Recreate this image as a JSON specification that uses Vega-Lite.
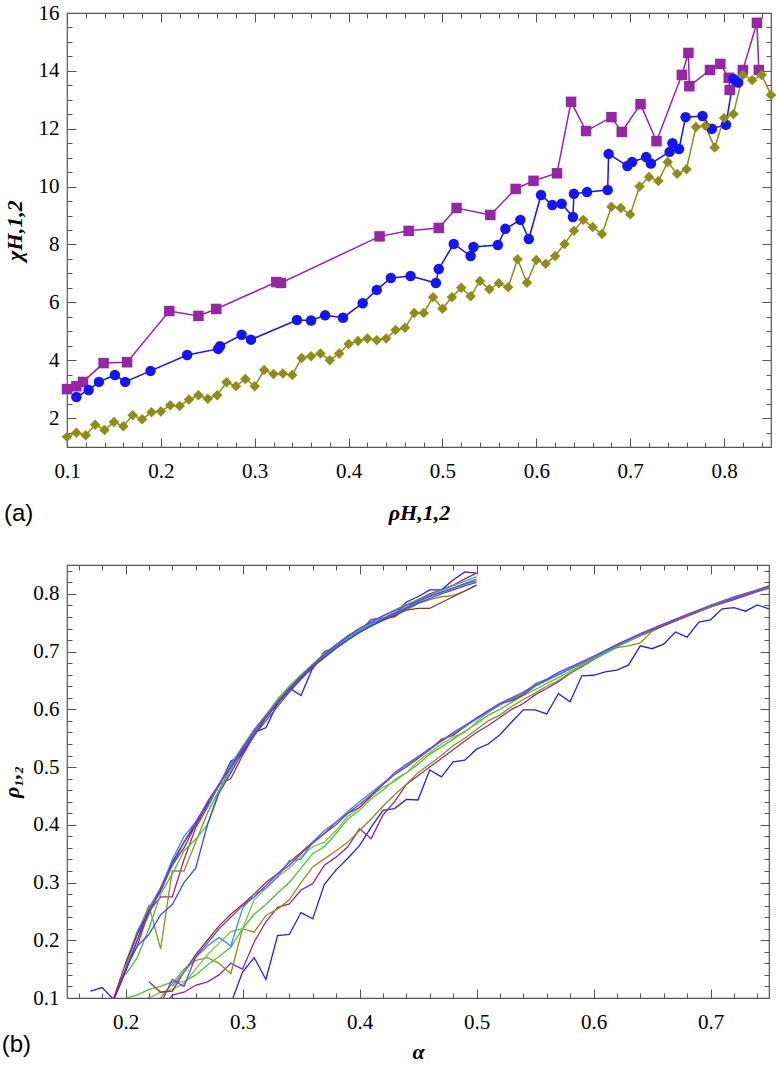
{
"$schema":"https://vega.github.io/schema/vega-lite/v6.json",
"background":"white",
"padding":{"left":0,"top":1,"right":2,"bottom":0},
"bounds":"flush",
"spacing":118,
"resolve":{"scale":{"color":"independent","shape":"independent"}},
"config":{
 "font":"Liberation Serif",
 "view":{"stroke":"#555","strokeWidth":1.2},
 "axis":{"domain":false,"grid":false,"labelFont":"Liberation Serif","labelFontSize":21,"labelColor":"#000","tickColor":"#555","tickWidth":1,"labelOverlap":false,"labelFlush":false,"titleFont":"Liberation Serif","titleFontSize":22,"titleFontWeight":"bold","titleFontStyle":"italic","titleColor":"#000"}
},
"datasets":{
"top":[
{"s":"sq","x":0.1,"y":3.0},{"s":"sq","x":0.11,"y":3.1},{"s":"sq","x":0.117,"y":3.25},{"s":"sq","x":0.139,"y":3.9},{"s":"sq","x":0.164,"y":3.93},{"s":"sq","x":0.209,"y":5.7},{"s":"sq","x":0.24,"y":5.53},{"s":"sq","x":0.259,"y":5.77},{"s":"sq","x":0.323,"y":6.7},{"s":"sq","x":0.328,"y":6.67},{"s":"sq","x":0.433,"y":8.28},{"s":"sq","x":0.464,"y":8.47},{"s":"sq","x":0.496,"y":8.57},{"s":"sq","x":0.515,"y":9.26},{"s":"sq","x":0.551,"y":9.02},{"s":"sq","x":0.578,"y":9.92},{"s":"sq","x":0.597,"y":10.2},{"s":"sq","x":0.622,"y":10.46},{"s":"sq","x":0.637,"y":12.93},{"s":"sq","x":0.653,"y":11.92},{"s":"sq","x":0.68,"y":12.4},{"s":"sq","x":0.691,"y":11.89},{"s":"sq","x":0.711,"y":12.85},{"s":"sq","x":0.728,"y":11.57},{"s":"sq","x":0.755,"y":13.86},{"s":"sq","x":0.762,"y":14.62},{"s":"sq","x":0.763,"y":13.47},{"s":"sq","x":0.785,"y":14.03},{"s":"sq","x":0.796,"y":14.24},{"s":"sq","x":0.805,"y":13.76},{"s":"sq","x":0.806,"y":13.34},{"s":"sq","x":0.82,"y":14.03},{"s":"sq","x":0.835,"y":15.66},{"s":"sq","x":0.837,"y":14.03},
{"s":"ci","x":0.11,"y":2.73},{"s":"ci","x":0.123,"y":2.97},{"s":"ci","x":0.134,"y":3.25},{"s":"ci","x":0.151,"y":3.49},{"s":"ci","x":0.162,"y":3.25},{"s":"ci","x":0.189,"y":3.63},{"s":"ci","x":0.228,"y":4.18},{"s":"ci","x":0.261,"y":4.39},{"s":"ci","x":0.263,"y":4.48},{"s":"ci","x":0.286,"y":4.88},{"s":"ci","x":0.296,"y":4.71},{"s":"ci","x":0.345,"y":5.39},{"s":"ci","x":0.36,"y":5.37},{"s":"ci","x":0.375,"y":5.55},{"s":"ci","x":0.394,"y":5.47},{"s":"ci","x":0.415,"y":5.97},{"s":"ci","x":0.43,"y":6.43},{"s":"ci","x":0.445,"y":6.84},{"s":"ci","x":0.466,"y":6.91},{"s":"ci","x":0.493,"y":6.67},{"s":"ci","x":0.496,"y":7.15},{"s":"ci","x":0.512,"y":8.02},{"s":"ci","x":0.53,"y":7.6},{"s":"ci","x":0.533,"y":7.91},{"s":"ci","x":0.559,"y":7.98},{"s":"ci","x":0.567,"y":8.54},{"s":"ci","x":0.583,"y":8.85},{"s":"ci","x":0.592,"y":8.19},{"s":"ci","x":0.605,"y":9.71},{"s":"ci","x":0.617,"y":9.36},{"s":"ci","x":0.627,"y":9.41},{"s":"ci","x":0.639,"y":8.95},{"s":"ci","x":0.64,"y":9.75},{"s":"ci","x":0.654,"y":9.81},{"s":"ci","x":0.676,"y":9.88},{"s":"ci","x":0.677,"y":11.13},{"s":"ci","x":0.697,"y":10.71},{"s":"ci","x":0.702,"y":10.85},{"s":"ci","x":0.717,"y":11.02},{"s":"ci","x":0.722,"y":10.8},{"s":"ci","x":0.742,"y":11.2},{"s":"ci","x":0.745,"y":11.5},{"s":"ci","x":0.752,"y":11.3},{"s":"ci","x":0.759,"y":12.4},{"s":"ci","x":0.777,"y":12.44},{"s":"ci","x":0.787,"y":12.0},{"s":"ci","x":0.802,"y":12.14},{"s":"ci","x":0.81,"y":13.72},{"s":"ci","x":0.815,"y":13.6},
{"s":"di","x":0.1,"y":1.35},{"s":"di","x":0.11,"y":1.49},{"s":"di","x":0.12,"y":1.41},{"s":"di","x":0.13,"y":1.77},{"s":"di","x":0.14,"y":1.59},{"s":"di","x":0.15,"y":1.86},{"s":"di","x":0.16,"y":1.72},{"s":"di","x":0.17,"y":2.1},{"s":"di","x":0.18,"y":1.96},{"s":"di","x":0.19,"y":2.2},{"s":"di","x":0.2,"y":2.23},{"s":"di","x":0.21,"y":2.44},{"s":"di","x":0.22,"y":2.42},{"s":"di","x":0.23,"y":2.64},{"s":"di","x":0.24,"y":2.79},{"s":"di","x":0.25,"y":2.67},{"s":"di","x":0.26,"y":2.79},{"s":"di","x":0.27,"y":3.24},{"s":"di","x":0.28,"y":3.1},{"s":"di","x":0.29,"y":3.35},{"s":"di","x":0.3,"y":3.1},{"s":"di","x":0.31,"y":3.66},{"s":"di","x":0.32,"y":3.52},{"s":"di","x":0.33,"y":3.54},{"s":"di","x":0.34,"y":3.49},{"s":"di","x":0.35,"y":4.08},{"s":"di","x":0.36,"y":4.14},{"s":"di","x":0.37,"y":4.23},{"s":"di","x":0.38,"y":4.0},{"s":"di","x":0.39,"y":4.23},{"s":"di","x":0.4,"y":4.56},{"s":"di","x":0.41,"y":4.66},{"s":"di","x":0.42,"y":4.75},{"s":"di","x":0.43,"y":4.69},{"s":"di","x":0.44,"y":4.75},{"s":"di","x":0.45,"y":5.04},{"s":"di","x":0.46,"y":5.12},{"s":"di","x":0.47,"y":5.63},{"s":"di","x":0.48,"y":5.63},{"s":"di","x":0.49,"y":6.18},{"s":"di","x":0.5,"y":5.78},{"s":"di","x":0.51,"y":6.18},{"s":"di","x":0.52,"y":6.5},{"s":"di","x":0.53,"y":6.21},{"s":"di","x":0.54,"y":6.74},{"s":"di","x":0.55,"y":6.45},{"s":"di","x":0.56,"y":6.66},{"s":"di","x":0.57,"y":6.52},{"s":"di","x":0.58,"y":7.49},{"s":"di","x":0.59,"y":6.68},{"s":"di","x":0.6,"y":7.46},{"s":"di","x":0.61,"y":7.33},{"s":"di","x":0.62,"y":7.6},{"s":"di","x":0.63,"y":8.02},{"s":"di","x":0.64,"y":8.47},{"s":"di","x":0.65,"y":8.85},{"s":"di","x":0.66,"y":8.6},{"s":"di","x":0.67,"y":8.36},{"s":"di","x":0.68,"y":9.3},{"s":"di","x":0.69,"y":9.26},{"s":"di","x":0.7,"y":9.04},{"s":"di","x":0.71,"y":10.0},{"s":"di","x":0.72,"y":10.33},{"s":"di","x":0.73,"y":10.19},{"s":"di","x":0.74,"y":10.85},{"s":"di","x":0.75,"y":10.44},{"s":"di","x":0.76,"y":10.6},{"s":"di","x":0.77,"y":12.06},{"s":"di","x":0.78,"y":12.1},{"s":"di","x":0.79,"y":11.35},{"s":"di","x":0.8,"y":12.37},{"s":"di","x":0.81,"y":12.51},{"s":"di","x":0.82,"y":13.86},{"s":"di","x":0.83,"y":13.68},{"s":"di","x":0.84,"y":13.86},{"s":"di","x":0.85,"y":13.17}
],
"bot":[
{"s":"LA","a":0.17,"r":0.112},{"s":"LA","a":0.18,"r":0.118},{"s":"LA","a":0.19,"r":0.097},{"s":"LA","a":0.2,"r":0.145},{"s":"LA","a":0.21,"r":0.2},{"s":"LA","a":0.22,"r":0.255},{"s":"LA","a":0.23,"r":0.29},{"s":"LA","a":0.24,"r":0.335},{"s":"LA","a":0.25,"r":0.37},{"s":"LA","a":0.26,"r":0.4},{"s":"LA","a":0.27,"r":0.435},{"s":"LA","a":0.28,"r":0.468},{"s":"LA","a":0.29,"r":0.51},{"s":"LA","a":0.3,"r":0.522},{"s":"LA","a":0.31,"r":0.56},{"s":"LA","a":0.32,"r":0.568},{"s":"LA","a":0.33,"r":0.61},{"s":"LA","a":0.34,"r":0.637},{"s":"LA","a":0.35,"r":0.624},{"s":"LA","a":0.36,"r":0.672},{"s":"LA","a":0.37,"r":0.695},{"s":"LA","a":0.38,"r":0.712},{"s":"LA","a":0.39,"r":0.727},{"s":"LA","a":0.4,"r":0.74},{"s":"LA","a":0.41,"r":0.75},{"s":"LA","a":0.42,"r":0.756},{"s":"LA","a":0.43,"r":0.763},{"s":"LA","a":0.44,"r":0.786},{"s":"LA","a":0.45,"r":0.795},{"s":"LA","a":0.46,"r":0.807},{"s":"LA","a":0.47,"r":0.807},{"s":"LA","a":0.48,"r":0.824},{"s":"LA","a":0.49,"r":0.838},{"s":"LA","a":0.5,"r":0.836},
{"s":"LB","a":0.19,"r":0.1},{"s":"LB","a":0.2,"r":0.15},{"s":"LB","a":0.21,"r":0.19},{"s":"LB","a":0.22,"r":0.25},{"s":"LB","a":0.23,"r":0.275},{"s":"LB","a":0.24,"r":0.275},{"s":"LB","a":0.25,"r":0.34},{"s":"LB","a":0.26,"r":0.395},{"s":"LB","a":0.27,"r":0.43},{"s":"LB","a":0.28,"r":0.47},{"s":"LB","a":0.29,"r":0.48},{"s":"LB","a":0.3,"r":0.52},{"s":"LB","a":0.31,"r":0.555},{"s":"LB","a":0.32,"r":0.587},{"s":"LB","a":0.33,"r":0.615},{"s":"LB","a":0.34,"r":0.636},{"s":"LB","a":0.35,"r":0.658},{"s":"LB","a":0.36,"r":0.67},{"s":"LB","a":0.37,"r":0.7},{"s":"LB","a":0.38,"r":0.708},{"s":"LB","a":0.39,"r":0.725},{"s":"LB","a":0.4,"r":0.735},{"s":"LB","a":0.41,"r":0.756},{"s":"LB","a":0.42,"r":0.758},{"s":"LB","a":0.43,"r":0.76},{"s":"LB","a":0.44,"r":0.775},{"s":"LB","a":0.45,"r":0.79},{"s":"LB","a":0.46,"r":0.8},{"s":"LB","a":0.47,"r":0.807},{"s":"LB","a":0.48,"r":0.815},{"s":"LB","a":0.49,"r":0.826},{"s":"LB","a":0.5,"r":0.836},
{"s":"LC","a":0.2,"r":0.155},{"s":"LC","a":0.21,"r":0.21},{"s":"LC","a":0.22,"r":0.26},{"s":"LC","a":0.23,"r":0.185},{"s":"LC","a":0.24,"r":0.32},{"s":"LC","a":0.25,"r":0.32},{"s":"LC","a":0.26,"r":0.37},{"s":"LC","a":0.27,"r":0.42},{"s":"LC","a":0.28,"r":0.46},{"s":"LC","a":0.29,"r":0.495},{"s":"LC","a":0.3,"r":0.53},{"s":"LC","a":0.31,"r":0.56},{"s":"LC","a":0.32,"r":0.59},{"s":"LC","a":0.33,"r":0.614},{"s":"LC","a":0.34,"r":0.636},{"s":"LC","a":0.35,"r":0.655},{"s":"LC","a":0.36,"r":0.678},{"s":"LC","a":0.37,"r":0.692},{"s":"LC","a":0.38,"r":0.708},{"s":"LC","a":0.39,"r":0.72},{"s":"LC","a":0.4,"r":0.735},{"s":"LC","a":0.41,"r":0.745},{"s":"LC","a":0.42,"r":0.755},{"s":"LC","a":0.43,"r":0.765},{"s":"LC","a":0.44,"r":0.772},{"s":"LC","a":0.45,"r":0.783},{"s":"LC","a":0.46,"r":0.79},{"s":"LC","a":0.47,"r":0.795},{"s":"LC","a":0.48,"r":0.797},{"s":"LC","a":0.49,"r":0.805},{"s":"LC","a":0.5,"r":0.815},
{"s":"LD","a":0.2,"r":0.14},{"s":"LD","a":0.21,"r":0.17},{"s":"LD","a":0.22,"r":0.22},{"s":"LD","a":0.23,"r":0.28},{"s":"LD","a":0.24,"r":0.315},{"s":"LD","a":0.25,"r":0.355},{"s":"LD","a":0.26,"r":0.375},{"s":"LD","a":0.27,"r":0.4},{"s":"LD","a":0.28,"r":0.46},{"s":"LD","a":0.29,"r":0.5},{"s":"LD","a":0.3,"r":0.535},{"s":"LD","a":0.31,"r":0.565},{"s":"LD","a":0.32,"r":0.59},{"s":"LD","a":0.33,"r":0.618},{"s":"LD","a":0.34,"r":0.64},{"s":"LD","a":0.35,"r":0.66},{"s":"LD","a":0.36,"r":0.678},{"s":"LD","a":0.37,"r":0.697},{"s":"LD","a":0.38,"r":0.712},{"s":"LD","a":0.39,"r":0.726},{"s":"LD","a":0.4,"r":0.738},{"s":"LD","a":0.41,"r":0.75},{"s":"LD","a":0.42,"r":0.762},{"s":"LD","a":0.43,"r":0.772},{"s":"LD","a":0.44,"r":0.782},{"s":"LD","a":0.45,"r":0.79},{"s":"LD","a":0.46,"r":0.798},{"s":"LD","a":0.47,"r":0.806},{"s":"LD","a":0.48,"r":0.814},{"s":"LD","a":0.49,"r":0.822},{"s":"LD","a":0.5,"r":0.83},
{"s":"LE","a":0.2,"r":0.16},{"s":"LE","a":0.21,"r":0.215},{"s":"LE","a":0.22,"r":0.255},{"s":"LE","a":0.23,"r":0.29},{"s":"LE","a":0.24,"r":0.34},{"s":"LE","a":0.25,"r":0.38},{"s":"LE","a":0.26,"r":0.405},{"s":"LE","a":0.27,"r":0.43},{"s":"LE","a":0.28,"r":0.47},{"s":"LE","a":0.29,"r":0.505},{"s":"LE","a":0.3,"r":0.535},{"s":"LE","a":0.31,"r":0.565},{"s":"LE","a":0.32,"r":0.59},{"s":"LE","a":0.33,"r":0.612},{"s":"LE","a":0.34,"r":0.634},{"s":"LE","a":0.35,"r":0.655},{"s":"LE","a":0.36,"r":0.675},{"s":"LE","a":0.37,"r":0.692},{"s":"LE","a":0.38,"r":0.709},{"s":"LE","a":0.39,"r":0.723},{"s":"LE","a":0.4,"r":0.736},{"s":"LE","a":0.41,"r":0.748},{"s":"LE","a":0.42,"r":0.758},{"s":"LE","a":0.43,"r":0.768},{"s":"LE","a":0.44,"r":0.777},{"s":"LE","a":0.45,"r":0.786},{"s":"LE","a":0.46,"r":0.795},{"s":"LE","a":0.47,"r":0.803},{"s":"LE","a":0.48,"r":0.81},{"s":"LE","a":0.49,"r":0.818},{"s":"LE","a":0.5,"r":0.826},
{"s":"LF","a":0.19,"r":0.1},{"s":"LF","a":0.2,"r":0.16},{"s":"LF","a":0.21,"r":0.21},{"s":"LF","a":0.22,"r":0.25},{"s":"LF","a":0.23,"r":0.285},{"s":"LF","a":0.24,"r":0.33},{"s":"LF","a":0.25,"r":0.36},{"s":"LF","a":0.26,"r":0.4},{"s":"LF","a":0.27,"r":0.44},{"s":"LF","a":0.28,"r":0.47},{"s":"LF","a":0.29,"r":0.5},{"s":"LF","a":0.3,"r":0.528},{"s":"LF","a":0.31,"r":0.555},{"s":"LF","a":0.32,"r":0.585},{"s":"LF","a":0.33,"r":0.61},{"s":"LF","a":0.34,"r":0.633},{"s":"LF","a":0.35,"r":0.654},{"s":"LF","a":0.36,"r":0.674},{"s":"LF","a":0.37,"r":0.69},{"s":"LF","a":0.38,"r":0.706},{"s":"LF","a":0.39,"r":0.72},{"s":"LF","a":0.4,"r":0.733},{"s":"LF","a":0.41,"r":0.744},{"s":"LF","a":0.42,"r":0.754},{"s":"LF","a":0.43,"r":0.762},{"s":"LF","a":0.44,"r":0.772},{"s":"LF","a":0.45,"r":0.775},{"s":"LF","a":0.46,"r":0.775},{"s":"LF","a":0.47,"r":0.785},{"s":"LF","a":0.48,"r":0.795},{"s":"LF","a":0.49,"r":0.805},{"s":"LF","a":0.5,"r":0.815},
{"s":"LG","a":0.2,"r":0.15},{"s":"LG","a":0.21,"r":0.2},{"s":"LG","a":0.22,"r":0.245},{"s":"LG","a":0.23,"r":0.29},{"s":"LG","a":0.24,"r":0.33},{"s":"LG","a":0.25,"r":0.37},{"s":"LG","a":0.26,"r":0.405},{"s":"LG","a":0.27,"r":0.438},{"s":"LG","a":0.28,"r":0.47},{"s":"LG","a":0.29,"r":0.5},{"s":"LG","a":0.3,"r":0.532},{"s":"LG","a":0.31,"r":0.562},{"s":"LG","a":0.32,"r":0.588},{"s":"LG","a":0.33,"r":0.613},{"s":"LG","a":0.34,"r":0.636},{"s":"LG","a":0.35,"r":0.657},{"s":"LG","a":0.36,"r":0.677},{"s":"LG","a":0.37,"r":0.695},{"s":"LG","a":0.38,"r":0.712},{"s":"LG","a":0.39,"r":0.727},{"s":"LG","a":0.4,"r":0.74},{"s":"LG","a":0.41,"r":0.752},{"s":"LG","a":0.42,"r":0.762},{"s":"LG","a":0.43,"r":0.771},{"s":"LG","a":0.44,"r":0.78},{"s":"LG","a":0.45,"r":0.788},{"s":"LG","a":0.46,"r":0.796},{"s":"LG","a":0.47,"r":0.803},{"s":"LG","a":0.48,"r":0.81},{"s":"LG","a":0.49,"r":0.817},{"s":"LG","a":0.5,"r":0.823},
{"s":"LH","a":0.2,"r":0.15},{"s":"LH","a":0.21,"r":0.19},{"s":"LH","a":0.22,"r":0.21},{"s":"LH","a":0.23,"r":0.244},{"s":"LH","a":0.24,"r":0.262},{"s":"LH","a":0.25,"r":0.3},{"s":"LH","a":0.26,"r":0.325},{"s":"LH","a":0.27,"r":0.4},{"s":"LH","a":0.28,"r":0.455},{"s":"LH","a":0.29,"r":0.49},{"s":"LH","a":0.3,"r":0.525},{"s":"LH","a":0.31,"r":0.555},{"s":"LH","a":0.32,"r":0.58},{"s":"LH","a":0.33,"r":0.605},{"s":"LH","a":0.34,"r":0.63},{"s":"LH","a":0.35,"r":0.652},{"s":"LH","a":0.36,"r":0.673},{"s":"LH","a":0.37,"r":0.69},{"s":"LH","a":0.38,"r":0.706},{"s":"LH","a":0.39,"r":0.72},{"s":"LH","a":0.4,"r":0.733},{"s":"LH","a":0.41,"r":0.745},{"s":"LH","a":0.42,"r":0.756},{"s":"LH","a":0.43,"r":0.766},{"s":"LH","a":0.44,"r":0.775},{"s":"LH","a":0.45,"r":0.784},{"s":"LH","a":0.46,"r":0.792},{"s":"LH","a":0.47,"r":0.8},{"s":"LH","a":0.48,"r":0.807},{"s":"LH","a":0.49,"r":0.814},{"s":"LH","a":0.5,"r":0.82},
{"s":"RA","a":0.28,"r":0.06},{"s":"RA","a":0.29,"r":0.09},{"s":"RA","a":0.3,"r":0.145},{"s":"RA","a":0.31,"r":0.17},{"s":"RA","a":0.32,"r":0.132},{"s":"RA","a":0.33,"r":0.208},{"s":"RA","a":0.34,"r":0.21},{"s":"RA","a":0.35,"r":0.248},{"s":"RA","a":0.36,"r":0.237},{"s":"RA","a":0.37,"r":0.297},{"s":"RA","a":0.38,"r":0.322},{"s":"RA","a":0.39,"r":0.342},{"s":"RA","a":0.4,"r":0.364},{"s":"RA","a":0.41,"r":0.396},{"s":"RA","a":0.42,"r":0.425},{"s":"RA","a":0.43,"r":0.428},{"s":"RA","a":0.44,"r":0.444},{"s":"RA","a":0.45,"r":0.443},{"s":"RA","a":0.46,"r":0.495},{"s":"RA","a":0.47,"r":0.483},{"s":"RA","a":0.48,"r":0.509},{"s":"RA","a":0.49,"r":0.512},{"s":"RA","a":0.5,"r":0.531},{"s":"RA","a":0.51,"r":0.54},{"s":"RA","a":0.52,"r":0.556},{"s":"RA","a":0.53,"r":0.578},{"s":"RA","a":0.54,"r":0.599},{"s":"RA","a":0.55,"r":0.599},{"s":"RA","a":0.56,"r":0.592},{"s":"RA","a":0.57,"r":0.627},{"s":"RA","a":0.58,"r":0.613},{"s":"RA","a":0.59,"r":0.658},{"s":"RA","a":0.6,"r":0.659},{"s":"RA","a":0.61,"r":0.665},{"s":"RA","a":0.62,"r":0.668},{"s":"RA","a":0.63,"r":0.677},{"s":"RA","a":0.64,"r":0.71},{"s":"RA","a":0.65,"r":0.705},{"s":"RA","a":0.66,"r":0.713},{"s":"RA","a":0.67,"r":0.734},{"s":"RA","a":0.68,"r":0.725},{"s":"RA","a":0.69,"r":0.751},{"s":"RA","a":0.7,"r":0.755},{"s":"RA","a":0.71,"r":0.774},{"s":"RA","a":0.72,"r":0.776},{"s":"RA","a":0.73,"r":0.77},{"s":"RA","a":0.74,"r":0.781},{"s":"RA","a":0.75,"r":0.774},
{"s":"RB","a":0.23,"r":0.08},{"s":"RB","a":0.24,"r":0.105},{"s":"RB","a":0.25,"r":0.11},{"s":"RB","a":0.26,"r":0.122},{"s":"RB","a":0.27,"r":0.128},{"s":"RB","a":0.28,"r":0.14},{"s":"RB","a":0.29,"r":0.16},{"s":"RB","a":0.3,"r":0.15},{"s":"RB","a":0.31,"r":0.197},{"s":"RB","a":0.32,"r":0.232},{"s":"RB","a":0.33,"r":0.257},{"s":"RB","a":0.34,"r":0.263},{"s":"RB","a":0.35,"r":0.287},{"s":"RB","a":0.36,"r":0.298},{"s":"RB","a":0.37,"r":0.33},{"s":"RB","a":0.38,"r":0.344},{"s":"RB","a":0.39,"r":0.362},{"s":"RB","a":0.4,"r":0.393},{"s":"RB","a":0.41,"r":0.376},{"s":"RB","a":0.42,"r":0.417},{"s":"RB","a":0.43,"r":0.44},{"s":"RB","a":0.44,"r":0.47},{"s":"RB","a":0.45,"r":0.485},{"s":"RB","a":0.46,"r":0.5},{"s":"RB","a":0.47,"r":0.515},{"s":"RB","a":0.48,"r":0.53},{"s":"RB","a":0.49,"r":0.545},{"s":"RB","a":0.5,"r":0.56},{"s":"RB","a":0.51,"r":0.572},{"s":"RB","a":0.52,"r":0.586},{"s":"RB","a":0.53,"r":0.6},{"s":"RB","a":0.54,"r":0.61},{"s":"RB","a":0.55,"r":0.625},{"s":"RB","a":0.56,"r":0.636},{"s":"RB","a":0.57,"r":0.648},{"s":"RB","a":0.58,"r":0.662},{"s":"RB","a":0.59,"r":0.674},{"s":"RB","a":0.6,"r":0.686},{"s":"RB","a":0.62,"r":0.709},{"s":"RB","a":0.64,"r":0.727},{"s":"RB","a":0.66,"r":0.745},{"s":"RB","a":0.68,"r":0.761},{"s":"RB","a":0.7,"r":0.777},{"s":"RB","a":0.72,"r":0.79},{"s":"RB","a":0.74,"r":0.804},{"s":"RB","a":0.75,"r":0.81},
{"s":"RC","a":0.22,"r":0.07},{"s":"RC","a":0.23,"r":0.1},{"s":"RC","a":0.24,"r":0.125},{"s":"RC","a":0.25,"r":0.15},{"s":"RC","a":0.26,"r":0.165},{"s":"RC","a":0.27,"r":0.17},{"s":"RC","a":0.28,"r":0.16},{"s":"RC","a":0.29,"r":0.142},{"s":"RC","a":0.3,"r":0.22},{"s":"RC","a":0.31,"r":0.214},{"s":"RC","a":0.32,"r":0.243},{"s":"RC","a":0.33,"r":0.254},{"s":"RC","a":0.34,"r":0.27},{"s":"RC","a":0.35,"r":0.3},{"s":"RC","a":0.36,"r":0.327},{"s":"RC","a":0.37,"r":0.341},{"s":"RC","a":0.38,"r":0.355},{"s":"RC","a":0.39,"r":0.37},{"s":"RC","a":0.4,"r":0.39},{"s":"RC","a":0.41,"r":0.41},{"s":"RC","a":0.42,"r":0.432},{"s":"RC","a":0.43,"r":0.452},{"s":"RC","a":0.44,"r":0.47},{"s":"RC","a":0.45,"r":0.49},{"s":"RC","a":0.46,"r":0.505},{"s":"RC","a":0.47,"r":0.52},{"s":"RC","a":0.48,"r":0.537},{"s":"RC","a":0.49,"r":0.55},{"s":"RC","a":0.5,"r":0.565},{"s":"RC","a":0.51,"r":0.58},{"s":"RC","a":0.52,"r":0.59},{"s":"RC","a":0.53,"r":0.605},{"s":"RC","a":0.54,"r":0.617},{"s":"RC","a":0.55,"r":0.628},{"s":"RC","a":0.56,"r":0.64},{"s":"RC","a":0.57,"r":0.65},{"s":"RC","a":0.58,"r":0.663},{"s":"RC","a":0.59,"r":0.674},{"s":"RC","a":0.6,"r":0.686},{"s":"RC","a":0.61,"r":0.697},{"s":"RC","a":0.62,"r":0.707},{"s":"RC","a":0.63,"r":0.71},{"s":"RC","a":0.64,"r":0.715},{"s":"RC","a":0.65,"r":0.735},{"s":"RC","a":0.66,"r":0.745},{"s":"RC","a":0.68,"r":0.762},{"s":"RC","a":0.7,"r":0.777},{"s":"RC","a":0.72,"r":0.792},{"s":"RC","a":0.74,"r":0.805},{"s":"RC","a":0.75,"r":0.81},
{"s":"RD","a":0.2,"r":0.1},{"s":"RD","a":0.21,"r":0.105},{"s":"RD","a":0.22,"r":0.115},{"s":"RD","a":0.23,"r":0.12},{"s":"RD","a":0.24,"r":0.128},{"s":"RD","a":0.25,"r":0.128},{"s":"RD","a":0.26,"r":0.14},{"s":"RD","a":0.27,"r":0.157},{"s":"RD","a":0.28,"r":0.172},{"s":"RD","a":0.29,"r":0.188},{"s":"RD","a":0.3,"r":0.22},{"s":"RD","a":0.31,"r":0.245},{"s":"RD","a":0.32,"r":0.262},{"s":"RD","a":0.33,"r":0.282},{"s":"RD","a":0.34,"r":0.3},{"s":"RD","a":0.35,"r":0.325},{"s":"RD","a":0.36,"r":0.35},{"s":"RD","a":0.37,"r":0.362},{"s":"RD","a":0.38,"r":0.385},{"s":"RD","a":0.39,"r":0.41},{"s":"RD","a":0.4,"r":0.425},{"s":"RD","a":0.41,"r":0.445},{"s":"RD","a":0.42,"r":0.46},{"s":"RD","a":0.43,"r":0.478},{"s":"RD","a":0.44,"r":0.49},{"s":"RD","a":0.45,"r":0.505},{"s":"RD","a":0.46,"r":0.522},{"s":"RD","a":0.47,"r":0.535},{"s":"RD","a":0.48,"r":0.548},{"s":"RD","a":0.49,"r":0.562},{"s":"RD","a":0.5,"r":0.575},{"s":"RD","a":0.51,"r":0.59},{"s":"RD","a":0.52,"r":0.6},{"s":"RD","a":0.53,"r":0.612},{"s":"RD","a":0.54,"r":0.624},{"s":"RD","a":0.55,"r":0.634},{"s":"RD","a":0.56,"r":0.645},{"s":"RD","a":0.57,"r":0.655},{"s":"RD","a":0.58,"r":0.666},{"s":"RD","a":0.59,"r":0.677},{"s":"RD","a":0.6,"r":0.687},{"s":"RD","a":0.62,"r":0.708},{"s":"RD","a":0.64,"r":0.728},{"s":"RD","a":0.66,"r":0.746},{"s":"RD","a":0.68,"r":0.763},{"s":"RD","a":0.7,"r":0.779},{"s":"RD","a":0.72,"r":0.793},{"s":"RD","a":0.74,"r":0.806},{"s":"RD","a":0.75,"r":0.812},
{"s":"RE","a":0.21,"r":0.09},{"s":"RE","a":0.22,"r":0.1},{"s":"RE","a":0.23,"r":0.11},{"s":"RE","a":0.24,"r":0.115},{"s":"RE","a":0.25,"r":0.125},{"s":"RE","a":0.26,"r":0.15},{"s":"RE","a":0.27,"r":0.175},{"s":"RE","a":0.28,"r":0.195},{"s":"RE","a":0.29,"r":0.215},{"s":"RE","a":0.3,"r":0.22},{"s":"RE","a":0.31,"r":0.27},{"s":"RE","a":0.32,"r":0.29},{"s":"RE","a":0.33,"r":0.31},{"s":"RE","a":0.34,"r":0.325},{"s":"RE","a":0.35,"r":0.345},{"s":"RE","a":0.36,"r":0.362},{"s":"RE","a":0.37,"r":0.37},{"s":"RE","a":0.38,"r":0.39},{"s":"RE","a":0.39,"r":0.415},{"s":"RE","a":0.4,"r":0.43},{"s":"RE","a":0.41,"r":0.45},{"s":"RE","a":0.42,"r":0.465},{"s":"RE","a":0.43,"r":0.475},{"s":"RE","a":0.44,"r":0.49},{"s":"RE","a":0.45,"r":0.51},{"s":"RE","a":0.46,"r":0.525},{"s":"RE","a":0.47,"r":0.54},{"s":"RE","a":0.48,"r":0.552},{"s":"RE","a":0.49,"r":0.56},{"s":"RE","a":0.5,"r":0.578},{"s":"RE","a":0.51,"r":0.595},{"s":"RE","a":0.52,"r":0.61},{"s":"RE","a":0.53,"r":0.617},{"s":"RE","a":0.54,"r":0.625},{"s":"RE","a":0.55,"r":0.645},{"s":"RE","a":0.56,"r":0.652},{"s":"RE","a":0.57,"r":0.66},{"s":"RE","a":0.58,"r":0.67},{"s":"RE","a":0.6,"r":0.69},{"s":"RE","a":0.62,"r":0.71},{"s":"RE","a":0.64,"r":0.729},{"s":"RE","a":0.66,"r":0.747},{"s":"RE","a":0.68,"r":0.764},{"s":"RE","a":0.7,"r":0.779},{"s":"RE","a":0.72,"r":0.793},{"s":"RE","a":0.74,"r":0.806},{"s":"RE","a":0.75,"r":0.812},
{"s":"RF","a":0.22,"r":0.128},{"s":"RF","a":0.23,"r":0.11},{"s":"RF","a":0.24,"r":0.112},{"s":"RF","a":0.25,"r":0.145},{"s":"RF","a":0.26,"r":0.175},{"s":"RF","a":0.27,"r":0.2},{"s":"RF","a":0.28,"r":0.225},{"s":"RF","a":0.29,"r":0.245},{"s":"RF","a":0.3,"r":0.262},{"s":"RF","a":0.31,"r":0.28},{"s":"RF","a":0.32,"r":0.3},{"s":"RF","a":0.33,"r":0.315},{"s":"RF","a":0.34,"r":0.335},{"s":"RF","a":0.35,"r":0.352},{"s":"RF","a":0.36,"r":0.37},{"s":"RF","a":0.37,"r":0.385},{"s":"RF","a":0.38,"r":0.405},{"s":"RF","a":0.39,"r":0.42},{"s":"RF","a":0.4,"r":0.43},{"s":"RF","a":0.41,"r":0.45},{"s":"RF","a":0.42,"r":0.47},{"s":"RF","a":0.43,"r":0.487},{"s":"RF","a":0.44,"r":0.5},{"s":"RF","a":0.45,"r":0.515},{"s":"RF","a":0.46,"r":0.53},{"s":"RF","a":0.47,"r":0.548},{"s":"RF","a":0.48,"r":0.555},{"s":"RF","a":0.49,"r":0.57},{"s":"RF","a":0.5,"r":0.585},{"s":"RF","a":0.51,"r":0.598},{"s":"RF","a":0.52,"r":0.61},{"s":"RF","a":0.53,"r":0.615},{"s":"RF","a":0.54,"r":0.625},{"s":"RF","a":0.55,"r":0.64},{"s":"RF","a":0.56,"r":0.65},{"s":"RF","a":0.57,"r":0.66},{"s":"RF","a":0.58,"r":0.67},{"s":"RF","a":0.6,"r":0.69},{"s":"RF","a":0.62,"r":0.712},{"s":"RF","a":0.64,"r":0.73},{"s":"RF","a":0.66,"r":0.745},{"s":"RF","a":0.68,"r":0.763},{"s":"RF","a":0.7,"r":0.78},{"s":"RF","a":0.72,"r":0.795},{"s":"RF","a":0.74,"r":0.807},{"s":"RF","a":0.75,"r":0.814},
{"s":"RG","a":0.24,"r":0.12},{"s":"RG","a":0.25,"r":0.145},{"s":"RG","a":0.26,"r":0.17},{"s":"RG","a":0.27,"r":0.19},{"s":"RG","a":0.28,"r":0.205},{"s":"RG","a":0.29,"r":0.19},{"s":"RG","a":0.3,"r":0.255},{"s":"RG","a":0.31,"r":0.28},{"s":"RG","a":0.32,"r":0.29},{"s":"RG","a":0.33,"r":0.31},{"s":"RG","a":0.34,"r":0.338},{"s":"RG","a":0.35,"r":0.34},{"s":"RG","a":0.36,"r":0.37},{"s":"RG","a":0.37,"r":0.39},{"s":"RG","a":0.38,"r":0.405},{"s":"RG","a":0.39,"r":0.423},{"s":"RG","a":0.4,"r":0.44},{"s":"RG","a":0.41,"r":0.456},{"s":"RG","a":0.42,"r":0.472},{"s":"RG","a":0.43,"r":0.488},{"s":"RG","a":0.44,"r":0.502},{"s":"RG","a":0.45,"r":0.517},{"s":"RG","a":0.46,"r":0.53},{"s":"RG","a":0.47,"r":0.545},{"s":"RG","a":0.48,"r":0.558},{"s":"RG","a":0.49,"r":0.57},{"s":"RG","a":0.5,"r":0.583},{"s":"RG","a":0.51,"r":0.595},{"s":"RG","a":0.52,"r":0.607},{"s":"RG","a":0.53,"r":0.618},{"s":"RG","a":0.54,"r":0.628},{"s":"RG","a":0.55,"r":0.64},{"s":"RG","a":0.56,"r":0.651},{"s":"RG","a":0.58,"r":0.67},{"s":"RG","a":0.6,"r":0.69},{"s":"RG","a":0.62,"r":0.71},{"s":"RG","a":0.64,"r":0.73},{"s":"RG","a":0.66,"r":0.747},{"s":"RG","a":0.68,"r":0.764},{"s":"RG","a":0.7,"r":0.78},{"s":"RG","a":0.72,"r":0.794},{"s":"RG","a":0.74,"r":0.806},{"s":"RG","a":0.75,"r":0.812},
{"s":"RH","a":0.21,"r":0.09},{"s":"RH","a":0.22,"r":0.1},{"s":"RH","a":0.23,"r":0.09},{"s":"RH","a":0.24,"r":0.132},{"s":"RH","a":0.25,"r":0.12},{"s":"RH","a":0.26,"r":0.172},{"s":"RH","a":0.27,"r":0.195},{"s":"RH","a":0.28,"r":0.22},{"s":"RH","a":0.29,"r":0.24},{"s":"RH","a":0.3,"r":0.26},{"s":"RH","a":0.31,"r":0.275},{"s":"RH","a":0.32,"r":0.295},{"s":"RH","a":0.33,"r":0.315},{"s":"RH","a":0.34,"r":0.33},{"s":"RH","a":0.35,"r":0.35},{"s":"RH","a":0.36,"r":0.368},{"s":"RH","a":0.37,"r":0.385},{"s":"RH","a":0.38,"r":0.4},{"s":"RH","a":0.39,"r":0.42},{"s":"RH","a":0.4,"r":0.435},{"s":"RH","a":0.41,"r":0.452},{"s":"RH","a":0.42,"r":0.47},{"s":"RH","a":0.43,"r":0.49},{"s":"RH","a":0.44,"r":0.505},{"s":"RH","a":0.45,"r":0.518},{"s":"RH","a":0.46,"r":0.532},{"s":"RH","a":0.47,"r":0.545},{"s":"RH","a":0.48,"r":0.56},{"s":"RH","a":0.49,"r":0.572},{"s":"RH","a":0.5,"r":0.585},{"s":"RH","a":0.51,"r":0.597},{"s":"RH","a":0.52,"r":0.61},{"s":"RH","a":0.53,"r":0.62},{"s":"RH","a":0.54,"r":0.63},{"s":"RH","a":0.55,"r":0.642},{"s":"RH","a":0.56,"r":0.652},{"s":"RH","a":0.57,"r":0.664},{"s":"RH","a":0.58,"r":0.673},{"s":"RH","a":0.6,"r":0.692},{"s":"RH","a":0.62,"r":0.712},{"s":"RH","a":0.64,"r":0.731},{"s":"RH","a":0.66,"r":0.748},{"s":"RH","a":0.68,"r":0.764},{"s":"RH","a":0.7,"r":0.779},{"s":"RH","a":0.72,"r":0.792},{"s":"RH","a":0.74,"r":0.805},{"s":"RH","a":0.75,"r":0.81}
]
},
"vconcat":[
{
 "width":704,"height":434,
 "data":{"name":"top"},
 "title":{"text":"(a)","orient":"bottom","anchor":"start","frame":"bounds","font":"Liberation Sans","fontSize":24,"fontWeight":"normal","color":"#000","offset":-21,"dx":1},
 "layer":[
  {"mark":{"type":"line","strokeWidth":1.5},
   "encoding":{
    "x":{"field":"x","type":"quantitative","scale":{"domain":[0.1,0.85],"nice":false,"zero":false},
      "axis":{"orient":"bottom","values":[0.1,0.12,0.14,0.16,0.18,0.2,0.22,0.24,0.26,0.28,0.3,0.32,0.34,0.36,0.38,0.4,0.42,0.44,0.46,0.48,0.5,0.52,0.54,0.56,0.58,0.6,0.62,0.64,0.66,0.68,0.7,0.72,0.74,0.76,0.78,0.8,0.82,0.84],
       "labelExpr":"abs(datum.value*10-round(datum.value*10))<0.001 ? format(datum.value,'.1f') : ''",
       "tickSize":{"condition":{"test":"abs(datum.value*10-round(datum.value*10))<0.001","value":-9},"value":-5},
       "labelPadding":22,"title":"ρH,1,2","titlePadding":17}},
    "y":{"field":"y","type":"quantitative","scale":{"domain":[1,16],"nice":false,"zero":false},
      "axis":{"orient":"left","values":[1,1.5,2,2.5,3,3.5,4,4.5,5,5.5,6,6.5,7,7.5,8,8.5,9,9.5,10,10.5,11,11.5,12,12.5,13,13.5,14,14.5,15,15.5,16],
       "labelExpr":"datum.value % 2 == 0 ? format(datum.value,'d') : ''",
       "tickSize":{"condition":{"test":"datum.value % 2 == 0","value":-9},"value":-5},
       "labelPadding":17,"title":"χH,1,2","titlePadding":12}},
    "color":{"field":"s","type":"nominal","scale":{"domain":["sq","ci","di"],"range":["#9526a6","#1414f5","#8d8d17"]},"legend":null}
   }},
  {"mark":{"type":"point","filled":true,"opacity":1,"size":110},
   "encoding":{
    "x":{"field":"x","type":"quantitative",
      "axis":{"orient":"top","values":[0.1,0.12,0.14,0.16,0.18,0.2,0.22,0.24,0.26,0.28,0.3,0.32,0.34,0.36,0.38,0.4,0.42,0.44,0.46,0.48,0.5,0.52,0.54,0.56,0.58,0.6,0.62,0.64,0.66,0.68,0.7,0.72,0.74,0.76,0.78,0.8,0.82,0.84],"labels":false,"title":null,
       "tickSize":{"condition":{"test":"abs(datum.value*10-round(datum.value*10))<0.001","value":-9},"value":-5}}},
    "y":{"field":"y","type":"quantitative",
      "axis":{"orient":"right","values":[1,1.5,2,2.5,3,3.5,4,4.5,5,5.5,6,6.5,7,7.5,8,8.5,9,9.5,10,10.5,11,11.5,12,12.5,13,13.5,14,14.5,15,15.5,16],"labels":false,"title":null,
       "tickSize":{"condition":{"test":"datum.value % 2 == 0","value":-9},"value":-5}}},
    "color":{"field":"s","type":"nominal","legend":null},
    "shape":{"field":"s","type":"nominal","scale":{"domain":["sq","ci","di"],"range":["square","circle","diamond"]},"legend":null}
   }}
 ],
 "resolve":{"axis":{"x":"independent","y":"independent"}}
},
{
 "width":702,"height":433,
 "data":{"name":"bot"},
 "title":{"text":"(b)","orient":"bottom","anchor":"start","frame":"bounds","font":"Liberation Sans","fontSize":24,"fontWeight":"normal","color":"#000","offset":-29,"dx":1},
 "layer":[
  {"transform":[{"filter":"indexof(datum.s,'L')==0"}],
   "mark":{"type":"line","strokeWidth":1.3,"clip":true},
   "encoding":{
    "x":{"field":"a","type":"quantitative","scale":{"domain":[0.15,0.75],"nice":false,"zero":false},
      "axis":{"orient":"bottom","values":[0.16,0.18,0.2,0.22,0.24,0.26,0.28,0.3,0.32,0.34,0.36,0.38,0.4,0.42,0.44,0.46,0.48,0.5,0.52,0.54,0.56,0.58,0.6,0.62,0.64,0.66,0.68,0.7,0.72,0.74],
       "labelExpr":"abs(datum.value*10-round(datum.value*10))<0.001 ? format(datum.value,'.1f') : ''",
       "tickSize":{"condition":{"test":"abs(datum.value*10-round(datum.value*10))<0.001","value":-9},"value":-5},
       "labelPadding":22,"title":"α","titlePadding":5}},
    "y":{"field":"r","type":"quantitative","scale":{"domain":[0.1,0.85],"nice":false,"zero":false},
      "axis":{"orient":"left","values":[0.1,0.12,0.14,0.16,0.18,0.2,0.22,0.24,0.26,0.28,0.3,0.32,0.34,0.36,0.38,0.4,0.42,0.44,0.46,0.48,0.5,0.52,0.54,0.56,0.58,0.6,0.62,0.64,0.66,0.68,0.7,0.72,0.74,0.76,0.78,0.8,0.82,0.84],
       "labelExpr":"abs(datum.value*10-round(datum.value*10))<0.001 ? format(datum.value,'.1f') : ''",
       "tickSize":{"condition":{"test":"abs(datum.value*10-round(datum.value*10))<0.001","value":-9},"value":-5},
       "labelPadding":17,"title":"ρ₁,₂","titlePadding":9}},
    "color":{"field":"s","type":"nominal","scale":{"domain":["LA","LB","LC","LD","LE","LF","LG","LH","RA","RB","RC","RD","RE","RF","RG","RH"],"range":["#2323d6","#8b2a9e","#8e8e1e","#4fbf3f","#3a8fd6","#8b3a2e","#7b3ae6","#3050e0","#2323d6","#8b2a9e","#8e8e1e","#4fbf3f","#7cc23a","#8b3a2e","#3a8fd6","#7b3ae6"]},"legend":null}
   }},
  {"transform":[{"filter":"indexof(datum.s,'R')==0"}],
   "mark":{"type":"line","strokeWidth":1.3,"clip":true},
   "encoding":{
    "x":{"field":"a","type":"quantitative",
      "axis":{"orient":"top","values":[0.16,0.18,0.2,0.22,0.24,0.26,0.28,0.3,0.32,0.34,0.36,0.38,0.4,0.42,0.44,0.46,0.48,0.5,0.52,0.54,0.56,0.58,0.6,0.62,0.64,0.66,0.68,0.7,0.72,0.74],"labels":false,"title":null,
       "tickSize":{"condition":{"test":"abs(datum.value*10-round(datum.value*10))<0.001","value":-9},"value":-5}}},
    "y":{"field":"r","type":"quantitative",
      "axis":{"orient":"right","values":[0.1,0.12,0.14,0.16,0.18,0.2,0.22,0.24,0.26,0.28,0.3,0.32,0.34,0.36,0.38,0.4,0.42,0.44,0.46,0.48,0.5,0.52,0.54,0.56,0.58,0.6,0.62,0.64,0.66,0.68,0.7,0.72,0.74,0.76,0.78,0.8,0.82,0.84],"labels":false,"title":null,
       "tickSize":{"condition":{"test":"abs(datum.value*10-round(datum.value*10))<0.001","value":-9},"value":-5}}},
    "color":{"field":"s","type":"nominal","legend":null}
   }}
 ],
 "resolve":{"axis":{"x":"independent","y":"independent"}}
}
]
}
